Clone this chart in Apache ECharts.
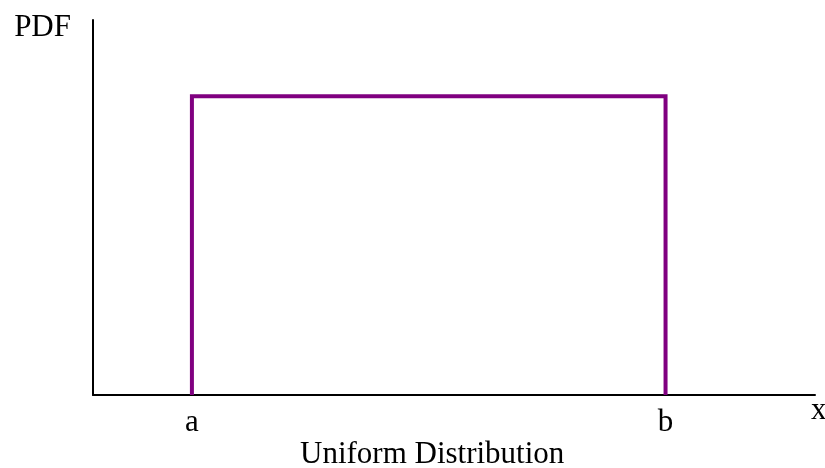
<!DOCTYPE html>
<html>
<head>
<meta charset="utf-8">
<script src="https://cdn.jsdelivr.net/npm/echarts@6/dist/echarts.min.js"></script>
<style>html,body{margin:0;padding:0;background:#fff}#c{width:825px;height:468px}</style>
</head>
<body>
<div id="c"></div>
<script>
// Data
const boundLabels = ['a', 'b'];
const boundValues = [13.7, 79.3];
const pdfValue = 0.797;
const lineX = [boundValues[0], boundValues[0], boundValues[1], boundValues[1]];
const lineY = [0, pdfValue, pdfValue, 0];
const titleText = 'Uniform Distribution';
const xName = 'x';
const yName = 'PDF';

const font = '"Liberation Serif", "Times New Roman", serif';
const chart = echarts.init(document.getElementById('c'));
chart.setOption({
  animation: false,
  backgroundColor: '#fff',
  title: {
    text: titleText,
    left: 300,
    top: 439,
    padding: 0,
    textStyle: {fontFamily: font, fontSize: 31, fontWeight: 'normal', color: '#000'}
  },
  grid: {left: 93, right: 10, top: 20, bottom: 73, containLabel: false, outerBoundsMode: 'none'},
  xAxis: {
    type: 'value', min: 0, max: 100,
    name: xName, nameLocation: 'end', nameGap: -4,
    nameMoveOverlap: false,
    nameTextStyle: {fontFamily: font, fontSize: 31, color: '#000', align: 'left', verticalAlign: 'top', padding: [0, 0, 0, 0]},
    axisLine: {show: true, onZero: false, lineStyle: {color: '#000', width: 2}},
    axisTick: {show: false},
    splitLine: {show: false},
    axisLabel: {
      customValues: boundValues,
      margin: 12,
      fontFamily: font, fontSize: 31, color: '#000',
      formatter: function (v) {
        const i = boundValues.indexOf(v);
        return i >= 0 ? boundLabels[i] : '';
      }
    }
  },
  yAxis: {
    type: 'value', min: 0, max: 1,
    name: yName, nameLocation: 'end', nameGap: -8,
    nameMoveOverlap: false,
    nameTextStyle: {fontFamily: font, fontSize: 31, color: '#000', align: 'right', verticalAlign: 'middle', padding: [0, 22, 0, 0]},
    axisLine: {show: true, onZero: false, lineStyle: {color: '#000', width: 2}},
    axisTick: {show: false},
    axisLabel: {show: false},
    splitLine: {show: false}
  },
  series: [{
    type: 'line',
    data: lineX.map((x, i) => [x, lineY[i]]),
    symbol: 'none',
    clip: false,
    lineStyle: {color: '#800080', width: 4, join: 'miter', cap: 'butt'}
  }]
});
</script>
</body>
</html>
